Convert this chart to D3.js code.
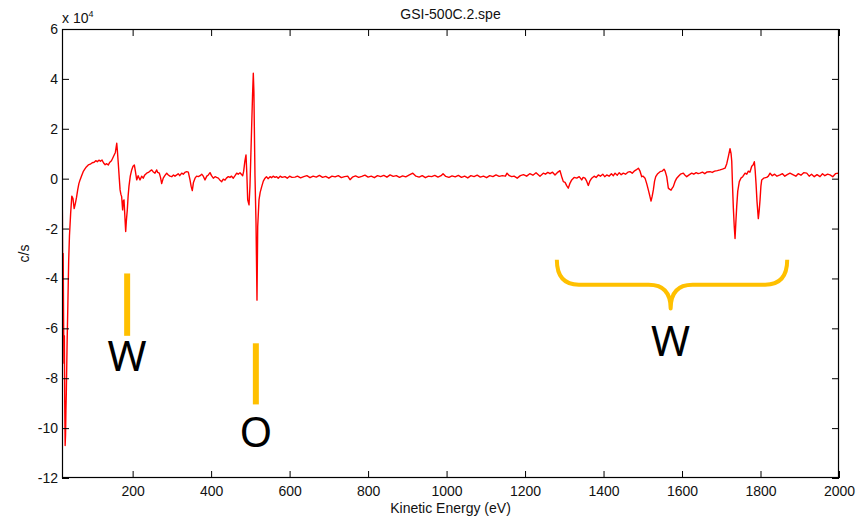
<!DOCTYPE html>
<head>
  <meta charset="utf-8">
  <title>GSI-500C.2.spe</title>
  <style>
    body { margin: 0; background: #fff; }
    svg { display: block; font-family: "Liberation Sans", Arial, Helvetica, sans-serif; }
  </style>
  <script src="https://cdn.jsdelivr.net/npm/d3@7/dist/d3.min.js"></script>
</head>
<body>
<script>
  // spectrum: kinetic energy (eV) and signal (x 10^4 c/s)
  var energy = [
    20, 21, 22, 23, 24, 25, 26, 27, 28, 29, 30, 31, 33, 35, 37, 39, 42, 45, 48, 51,
    54, 57, 60, 63, 66, 70, 74, 78, 82, 87, 92, 97, 102, 106, 110, 114, 118, 122, 126, 130,
    134, 138, 142, 146, 150, 153, 156, 159.5, 161, 163.5, 166, 168, 170, 172, 174.5, 176, 178, 180, 182.3, 184,
    186.4, 188.5, 190.7, 194, 197.6, 201, 204.3, 207, 210.4, 214, 218.8, 223, 227, 231, 235.8, 240, 244, 248.6, 252, 257,
    261.3, 264, 268, 271, 274, 278, 282, 286.8, 291, 295, 299.6, 304, 308, 312.3, 316, 320, 325, 329, 333, 337.8,
    341.9, 346.2, 349, 352, 355, 359, 363, 367.4, 372, 376, 380, 384.4, 389, 393, 397.2, 401, 405.6, 410, 414, 418.3,
    422, 427, 431, 435.4, 439, 443.8, 448, 452, 456.5, 461, 465.2, 469, 473.6, 477, 480.5, 483, 486, 488.9, 491, 493.2,
    496.6, 499, 500.9, 503.4, 505.5, 507.5, 509, 510.1, 511.8, 514.4, 516.9, 518.7, 522, 525, 528.9, 533, 537.3, 541, 545, 550.1,
    554, 558, 562.8, 567, 571, 576, 581, 588.3, 594, 600, 606, 613.8, 620, 628, 636, 644, 652, 660, 668, 676,
    684, 692, 700, 708, 716, 724, 732, 740, 748, 754, 760, 768, 776, 784, 792, 800, 808, 816, 824, 832,
    840, 848, 856, 864, 872, 880, 888, 896, 904, 914, 922, 930, 938, 946, 954, 962, 970, 978, 986, 991,
    998, 1006, 1014, 1022, 1030, 1038, 1046, 1054, 1062, 1070, 1078, 1086, 1094, 1102, 1110, 1118, 1126, 1134, 1142, 1150,
    1154, 1160, 1166, 1172, 1180, 1188, 1196, 1204, 1212, 1220, 1228, 1238, 1246.5, 1252, 1258, 1263.6, 1270, 1276.3, 1282, 1289,
    1293, 1297.5, 1302, 1306, 1310.2, 1314, 1318.9, 1325, 1331.7, 1338, 1344.4, 1348, 1352.8, 1357, 1361.2, 1365, 1369.9, 1376, 1381, 1386.7,
    1392, 1398, 1403, 1408.1, 1414, 1420, 1425, 1429.3, 1435, 1440, 1445, 1450.4, 1456, 1462, 1467.5, 1473, 1478, 1483, 1488.7, 1493,
    1497.3, 1501, 1505.7, 1510, 1514.1, 1518, 1521, 1524, 1526.9, 1530, 1533, 1538, 1544, 1549, 1554.1, 1557, 1561, 1565.1, 1568, 1572,
    1575, 1577.8, 1582, 1586.5, 1591, 1596, 1603.3, 1607, 1612, 1618, 1624.7, 1630, 1636, 1641, 1645.9, 1652, 1658, 1664, 1671.4, 1677,
    1683, 1690, 1696.8, 1703, 1709.6, 1714, 1718, 1722.3, 1725, 1726.7, 1728.5, 1730.7, 1733, 1735.1, 1737, 1739.4, 1742, 1746, 1750, 1754.7,
    1760.6, 1765, 1769, 1773, 1777.6, 1781, 1784.3, 1786.5, 1788.6, 1791, 1794.4, 1796.5, 1798.8, 1801, 1803.1, 1808, 1815.8, 1820, 1824.3, 1830,
    1836, 1842, 1849.7, 1856, 1862, 1868, 1875, 1883.6, 1890, 1896, 1903, 1910, 1917.8, 1924, 1930, 1937, 1944, 1951.6, 1958, 1964,
    1971, 1977.1, 1984, 1991, 1998.3, 2000
  ];
  var counts = [
    0.2, -1.5, -4.4, -3.0, -5.6, -7.4, -6.3, -9.1, -10.7, -10.3, -9.3, -8.6, -6.6, -5.0, -3.3, -2.3, -1.4, -0.7, -0.8, -1.2,
    -1.0, -0.75, -0.45, -0.2, -0.05, 0.12, 0.28, 0.38, 0.47, 0.55, 0.58, 0.64, 0.66, 0.72, 0.68, 0.74, 0.7, 0.75, 0.63, 0.56,
    0.6, 0.55, 0.66, 0.72, 0.85, 0.95, 1.05, 1.42, 1.15, 0.6, 0.0, -0.45, -0.62, -0.72, -1.25, -0.9, -0.85, -1.45, -2.12, -1.7,
    -1.25, -0.7, -0.3, 0.1, 0.35, 0.5, 0.55, 0.3, -0.05, 0.12, -0.05, 0.1, 0.02, 0.15, 0.22, 0.25, 0.3, 0.35, 0.28, 0.22,
    0.35, 0.25, 0.22, 0.05, -0.2, 0.02, 0.12, 0.22, 0.15, 0.1, 0.08, 0.15, 0.1, 0.15, 0.2, 0.12, 0.22, 0.18, 0.25, 0.28,
    0.26, -0.05, -0.3, -0.48, -0.15, 0.02, 0.1, 0.08, 0.12, 0.18, 0.1, -0.05, 0.1, 0.15, 0.24, 0.12, 0.02, 0.08, 0.05, 0.02,
    -0.05, -0.12, -0.02, -0.06, 0.02, 0.08, 0.05, 0.1, 0.02, 0.12, 0.22, 0.18, 0.24, 0.18, 0.12, 0.3, 0.7, 0.95, 0.2, -0.85,
    -1.05, -0.3, 0.75, 2.15, 3.3, 4.23, 3.5, 2.1, 0.1, -1.78, -4.87, -1.92, -0.85, -0.55, -0.32, -0.1, 0.02, 0.08, 0.0, 0.08,
    0.04, 0.1, 0.05, 0.08, 0.02, 0.1, 0.05, 0.08, 0.02, 0.1, 0.05, 0.06, 0.1, 0.03, 0.08, 0.12, 0.04, 0.1, 0.06, 0.13,
    0.05, 0.09, 0.02, 0.1, 0.07, 0.12, 0.04, 0.08, 0.1, -0.04, 0.06, 0.11, 0.05, 0.09, 0.14, 0.06, 0.1, 0.04, 0.12, 0.08,
    0.13, 0.06, 0.15, 0.09, 0.12, 0.05, 0.11, 0.07, 0.14, 0.22, 0.1, 0.06, 0.12, 0.04, 0.1, 0.08, 0.13, 0.06, 0.12, 0.2,
    0.09, 0.05, 0.11, 0.07, 0.13, 0.05, 0.1, 0.03, 0.12, 0.08, 0.14, 0.06, 0.1, 0.04, 0.12, 0.08, 0.15, 0.09, 0.12, 0.1,
    0.22, 0.12, 0.08, 0.1, 0.02, 0.12, 0.16, 0.1, 0.2, 0.14, 0.24, 0.1, 0.22, 0.18, 0.25, 0.2, 0.26, 0.15, 0.24, 0.32,
    0.1, -0.12, -0.15, -0.28, -0.38, -0.2, -0.05, 0.05, 0.02, 0.08, -0.05, 0.05, 0.02, -0.1, -0.27, -0.1, 0.02, 0.1, 0.05, 0.15,
    0.1, 0.18, 0.08, 0.15, 0.1, 0.2, 0.12, 0.22, 0.14, 0.24, 0.16, 0.22, 0.18, 0.26, 0.28, 0.22, 0.3, 0.35, 0.42, 0.3,
    0.08, 0.1, 0.02, -0.2, -0.45, -0.7, -0.9, -0.7, -0.45, -0.1, 0.08, 0.2, 0.28, 0.3, 0.38, 0.3, 0.08, -0.38, -0.42, -0.46,
    -0.38, -0.32, -0.12, 0.02, 0.1, 0.18, 0.22, 0.15, 0.08, 0.15, 0.22, 0.18, 0.24, 0.2, 0.22, 0.26, 0.2, 0.27, 0.28, 0.25,
    0.3, 0.32, 0.35, 0.38, 0.42, 0.6, 0.88, 1.2, 1.0, 0.7, -0.2, -1.15, -1.9, -2.4, -1.8, -1.1, -0.5, -0.12, 0.02, 0.08,
    0.22, 0.18, 0.3, 0.26, 0.5, 0.55, 0.68, 0.3, -0.2, -0.9, -1.6, -1.3, -0.85, -0.3, -0.05, 0.02, 0.05, 0.1, 0.22, 0.12,
    0.18, 0.1, 0.15, 0.2, 0.1, 0.16, 0.22, 0.15, 0.1, 0.2, 0.14, 0.24, 0.22, 0.1, 0.18, 0.08, 0.16, 0.08, 0.2, 0.12,
    0.18, 0.15, 0.08, 0.2, 0.22, 0.15
  ];

  var xTicks = [200, 400, 600, 800, 1000, 1200, 1400, 1600, 1800, 2000];
  var yTicks = [-12, -10, -8, -6, -4, -2, 0, 2, 4, 6];

  // hand-drawn annotations, in data units (eV, x 10^4 c/s)
  var markLabels = ["W", "O"];
  var markEnergy = [186, 514];
  var markTop = [-3.8, -6.6];
  var markBottom = [-6.3, -9.05];
  var markBaseline = [-7.7, -10.75];
  // brace over the high-energy W peaks: left end, tip, right end
  var braceEnergy = [1281, 1571, 1868];
  var braceLevels = [-3.25, -4.25, -5.2];
  var braceLabelBaseline = -7.1;

  var width = 866;
  var height = 518;
  var margin = {top: 29, right: 27, bottom: 40, left: 62};

  var svg = d3.select("body")
              .append("svg")
              .attr("width", width)
              .attr("height", height);

  var x = d3.scaleLinear()
            .domain([20, 2000])
            .range([margin.left, width - margin.right]);
  var y = d3.scaleLinear()
            .domain([-12, 6])
            .range([height - margin.bottom, margin.top]);

  // plain labels, ascii minus and no thousands separator
  var plain = function (d) { return String(d); };

  svg.append("defs").append("clipPath")
    .attr("id", "plotclip")
    .append("rect")
      .attr("x", margin.left)
      .attr("y", margin.top)
      .attr("width", x.range()[1] - margin.left)
      .attr("height", y.range()[0] - margin.top);

  // the spectrum
  var line = d3.line()
               .x(function (d, i) { return x(energy[i]); })
               .y(function (d) { return y(d); });

  svg.append("path")
    .datum(counts)
    .attr("clip-path", "url(#plotclip)")
    .attr("fill", "none")
    .attr("stroke", "#ff0000")
    .attr("stroke-width", 1.4)
    .attr("stroke-linejoin", "round")
    .attr("d", line);

  // axes, matlab style: ticks pointing inwards on all four sides
  var xAxis = svg.append("g")
    .attr("transform", "translate(0," + y.range()[0] + ")")
    .call(d3.axisBottom(x).tickValues(xTicks).tickFormat(plain).tickSize(-7).tickSizeOuter(0).tickPadding(8));
  var yAxis = svg.append("g")
    .attr("transform", "translate(" + margin.left + ",0)")
    .call(d3.axisLeft(y).tickValues(yTicks).tickFormat(plain).tickSize(-7).tickSizeOuter(0).tickPadding(4));
  svg.append("g")
    .attr("transform", "translate(0," + margin.top + ")")
    .call(d3.axisTop(x).tickValues(xTicks).tickSize(-7).tickSizeOuter(0).tickFormat(""));
  svg.append("g")
    .attr("transform", "translate(" + x.range()[1] + ",0)")
    .call(d3.axisRight(y).tickValues(yTicks).tickSize(-7).tickSizeOuter(0).tickFormat(""));

  svg.selectAll(".domain").remove();
  svg.selectAll(".tick line").attr("stroke", "#000");
  [xAxis, yAxis].forEach(function (ax) {
    ax.attr("font-family", null).attr("font-size", null);
    ax.selectAll("text")
      .attr("fill", "#111")
      .style("font-size", "14px");
  });

  // plot box
  svg.append("rect")
    .attr("x", margin.left + 0.5)
    .attr("y", margin.top + 0.5)
    .attr("width", x.range()[1] - margin.left - 1)
    .attr("height", y.range()[0] - margin.top - 1)
    .attr("fill", "none")
    .attr("stroke", "#000")
    .attr("stroke-width", 1.2);

  // exponent, title, axis labels
  var expo = svg.append("text")
    .attr("x", margin.left)
    .attr("y", 23)
    .attr("fill", "#111")
    .style("font-size", "14px")
    .text("x 10");
  expo.append("tspan")
    .attr("dy", -6)
    .style("font-size", "9px")
    .text("4");

  svg.append("text")
    .attr("x", (margin.left + x.range()[1]) / 2)
    .attr("y", 19)
    .attr("text-anchor", "middle")
    .attr("fill", "#111")
    .style("font-size", "14px")
    .text("GSI-500C.2.spe");

  svg.append("text")
    .attr("x", (margin.left + x.range()[1]) / 2)
    .attr("y", 513)
    .attr("text-anchor", "middle")
    .attr("fill", "#111")
    .style("font-size", "14px")
    .text("Kinetic Energy (eV)");

  svg.append("text")
    .attr("transform", "translate(29," + (margin.top + y.range()[0]) / 2 + ") rotate(-90)")
    .attr("text-anchor", "middle")
    .attr("fill", "#111")
    .style("font-size", "14px")
    .text("c/s");

  // orange markers with element labels
  var orange = "#ffc000";
  markLabels.forEach(function (lab, i) {
    svg.append("line")
      .attr("x1", x(markEnergy[i]))
      .attr("x2", x(markEnergy[i]))
      .attr("y1", y(markTop[i]))
      .attr("y2", y(markBottom[i]))
      .attr("stroke", orange)
      .attr("stroke-width", 6);
    svg.append("text")
      .attr("x", x(markEnergy[i]))
      .attr("y", y(markBaseline[i]))
      .attr("text-anchor", "middle")
      .attr("fill", "#000")
      .style("font-family", "'Noto Sans', 'Open Sans', sans-serif")
      .style("font-size", "42px")
      .text(lab);
  });

  var bx0 = x(braceEnergy[0]), bxm = x(braceEnergy[1]), bx1 = x(braceEnergy[2]);
  var by0 = y(braceLevels[0]), bym = y(braceLevels[1]), byt = y(braceLevels[2]);
  var r = 22;
  svg.append("path")
    .attr("d", "M" + bx0 + "," + by0 +
               " Q" + bx0 + "," + bym + " " + (bx0 + r) + "," + bym +
               " L" + (bxm - r) + "," + bym +
               " Q" + bxm + "," + bym + " " + bxm + "," + byt +
               " Q" + bxm + "," + bym + " " + (bxm + r) + "," + bym +
               " L" + (bx1 - r) + "," + bym +
               " Q" + bx1 + "," + bym + " " + bx1 + "," + by0)
    .attr("fill", "none")
    .attr("stroke", orange)
    .attr("stroke-width", 4)
    .attr("stroke-linejoin", "round");

  svg.append("text")
    .attr("x", bxm)
    .attr("y", y(braceLabelBaseline))
    .attr("text-anchor", "middle")
    .attr("fill", "#000")
    .style("font-family", "'Noto Sans', 'Open Sans', sans-serif")
    .style("font-size", "42px")
    .text("W");
</script>
</body>
